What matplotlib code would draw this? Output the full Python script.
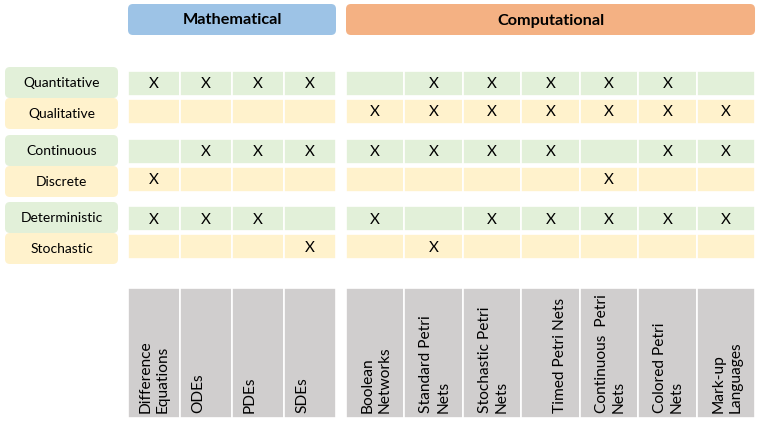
import matplotlib
matplotlib.use("Agg")
import matplotlib.pyplot as plt
from matplotlib.patches import Rectangle, FancyBboxPatch

plt.rcParams['font.family'] = ['Lato', 'DejaVu Sans']

# Row properties (pairs) and modelling approaches
row_labels = ["Quantitative", "Qualitative", "Continuous", "Discrete",
              "Deterministic", "Stochastic"]
math_cols = ["Difference\nEquations", "ODEs", "PDEs", "SDEs"]
comp_cols = ["Boolean\nNetworks", "Standard Petri\nNets", "Stochastic Petri\nNets",
             "\nTimed Petri Nets", "Continuous  Petri\nNets", "Colored Petri\nNets",
             "Mark-up\nLanguages"]

# 1 = "X" in the cell
math_marks = [
    [1, 1, 1, 1],
    [0, 0, 0, 0],
    [0, 1, 1, 1],
    [1, 0, 0, 0],
    [1, 1, 1, 0],
    [0, 0, 0, 1],
]
comp_marks = [
    [0, 1, 1, 1, 1, 1, 0],
    [1, 1, 1, 1, 1, 1, 1],
    [1, 1, 1, 1, 0, 1, 1],
    [0, 0, 0, 0, 1, 0, 0],
    [1, 0, 1, 1, 1, 1, 1],
    [0, 1, 0, 0, 0, 0, 0],
]

# colours
blue = '#9DC3E6'
orange = '#F4B183'
green = '#E2F0D9'
yellow = '#FFF2CC'
grey = '#D0CECE'

# layout in pixels
W, H = 758, 424
math_x0, math_w = 128, 52
comp_x0, comp_w = 346, 58.43
group_tops = [71, 139, 206]
row_h, row_pitch = 25, 28
label_x0, label_x1 = 5, 118
head_y0, head_y1 = 4, 35
grey_y0, grey_y1 = 288, 418

fig = plt.figure(figsize=(W / 100, H / 100), dpi=100)
ax = fig.add_axes([0, 0, 1, 1])
ax.set_xlim(0, W)
ax.set_ylim(H, 0)
ax.axis('off')


def rbox(x0, y0, w, h, color, r=5):
    ax.add_patch(FancyBboxPatch((x0 + r, y0 + r), w - 2 * r, h - 2 * r,
                                boxstyle=f"round,pad={r}", fc=color, ec='none'))


# headers
rbox(math_x0, head_y0, math_w * len(math_cols), head_y1 - head_y0, blue)
ax.text(math_x0 + math_w * len(math_cols) / 2, (head_y0 + head_y1) / 2 + 1, "Mathematical",
        ha='center', va='center', fontsize=11.7, fontweight='bold')
rbox(comp_x0, head_y0, comp_w * len(comp_cols), head_y1 - head_y0, orange)
ax.text(comp_x0 + comp_w * len(comp_cols) / 2, (head_y0 + head_y1) / 2 + 1, "Computational",
        ha='center', va='center', fontsize=11.7, fontweight='bold')

# rows
for i, label in enumerate(row_labels):
    g, k = divmod(i, 2)
    top = group_tops[g] + k * row_pitch
    color = green if k == 0 else yellow
    # label box
    by0 = group_tops[g] - 4 + k * 31
    rbox(label_x0, by0, label_x1 - label_x0, 31, color, r=5)
    ax.text((label_x0 + label_x1) / 2, by0 + 16, label, ha='center', va='center',
            fontsize=10)
    for x0, w, marks in ((math_x0, math_w, math_marks[i]), (comp_x0, comp_w, comp_marks[i])):
        for j, m in enumerate(marks):
            ax.add_patch(Rectangle((x0 + j * w, top), w, row_h, fc=color, ec='white', lw=1.2))
            if m:
                ax.text(x0 + (j + 0.5) * w, top + row_h / 2 + 1, "X", ha='center',
                        va='center', fontsize=11)

# bottom grey column labels
for x0, w, cols, pad in ((math_x0, math_w, math_cols, 11), (comp_x0, comp_w, comp_cols, 15)):
    for j, name in enumerate(cols):
        ax.add_patch(Rectangle((x0 + j * w, grey_y0), w, grey_y1 - grey_y0,
                               fc=grey, ec='white', lw=1.2))
        ax.text(x0 + j * w + pad, grey_y1 - 5, name, rotation=90, ha='left', va='bottom',
                multialignment='left', fontsize=11.2, linespacing=1.25)

fig.savefig("out.png", dpi=100)
